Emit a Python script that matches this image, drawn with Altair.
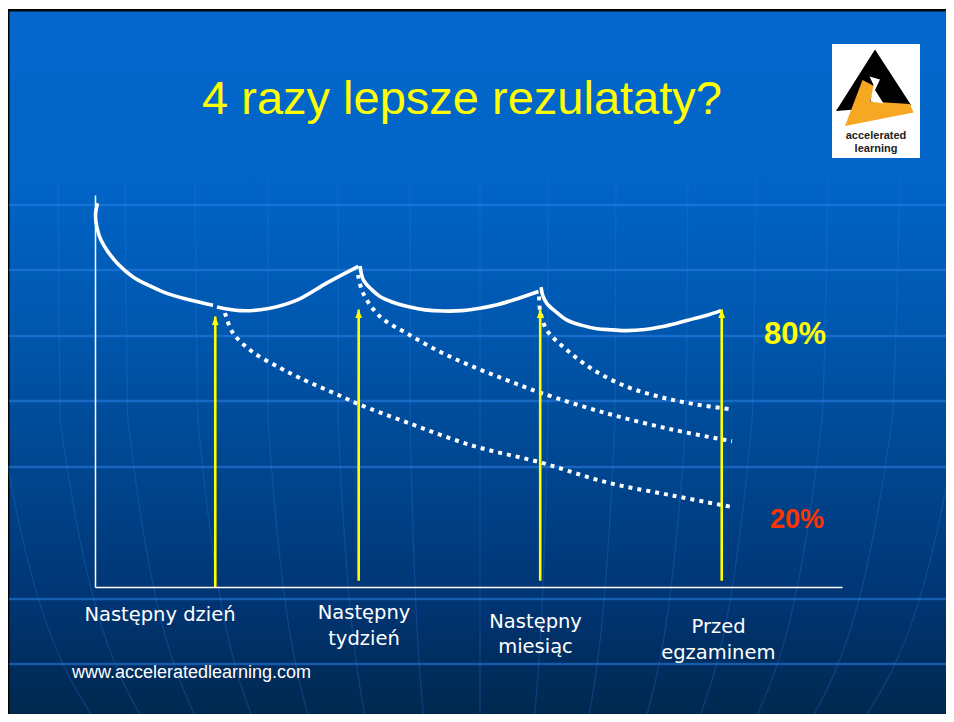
import altair as alt
import pandas as pd

# ---------------- data (x: position on the timeline 0-100, y: retention %) ----------------
event_names = ["Następny dzień", "Następny tydzień", "Następny miesiąc", "Przed egzaminem"]
event_x = [16.1, 35.3, 59.6, 83.9]
arrow_tip = [69.0, 70.8, 70.8, 70.8]
arrow_base = [0.0, 1.6, 1.6, 1.6]

# solid curve (review after each repetition), four segments
seg1_x = [0.33, 0.07, 0.27, 0.80, 1.74, 3.08, 5.09, 7.36, 9.10, 12.72, 15.80]
seg1_y = [97.9, 94.9, 91.6, 88.5, 85.5, 82.4, 79.1, 76.8, 75.3, 73.2, 71.9]
seg2_x = [16.33, 19.41, 23.03, 27.04, 31.06, 35.27]
seg2_y = [71.4, 70.5, 71.0, 73.2, 77.6, 81.8]
seg3_x = [35.48, 35.94, 37.08, 38.15, 39.76, 41.70, 44.18, 46.59, 49.13, 51.54, 53.82, 55.96, 59.37]
seg3_y = [81.9, 78.3, 75.8, 74.1, 72.7, 71.6, 70.7, 70.4, 70.5, 71.1, 72.0, 73.2, 75.4]
seg4_x = [59.71, 59.97, 60.51, 61.71, 63.19, 65.06, 67.20, 69.21, 71.22, 73.63, 75.64, 77.91, 80.05, 82.06, 83.80]
seg4_y = [76.5, 74.2, 72.3, 70.2, 68.1, 66.8, 65.9, 65.6, 65.4, 65.7, 66.3, 67.3, 68.4, 69.4, 70.5]

# dotted forgetting curves (no further review)
dot1_x = [17.40, 18.47, 21.15, 24.77, 27.44, 32.80, 35.21, 41.73, 50.64, 59.57, 68.50, 77.42, 85.27]
dot1_y = [69.9, 64.8, 59.9, 55.9, 53.3, 48.8, 46.7, 42.0, 36.0, 31.8, 26.7, 23.3, 20.4]
dot2_x = [35.21, 35.88, 38.15, 41.73, 46.18, 50.60, 55.11, 59.57, 68.50, 77.42, 85.27]
dot2_y = [79.6, 75.0, 69.0, 64.7, 60.0, 56.2, 52.8, 49.6, 44.3, 40.1, 37.2]
dot3_x = [59.44, 59.57, 60.47, 63.15, 66.71, 71.18, 75.64, 80.09, 85.27]
dot3_y = [74.1, 70.7, 65.6, 60.5, 55.4, 51.1, 48.5, 46.7, 45.3]

# background texture of the slide (pixels relative to the plot origin)
grid_rows = [10, 75, 141, 206, 272, 404, 469]
mer_top = [-105, -37, 30, 100, 173, 243, 315, 385, 453, 521, 593, 661, 733, 805, 873]
mer_mid = [-95, -35, 33, 103, 173, 243, 315, 385, 453, 520, 591, 657, 727, 797, 863]
mer_bot = [1, 49, 103, 159, 215, 271, 329, 385, 439, 493, 550, 603, 659, 715, 767]

# ---------------- tables ----------------
def frame(xs, ys, name):
    return pd.DataFrame({"x": xs, "y": ys, "curve": name, "i": range(len(xs))})

solid = pd.concat([frame(seg1_x, seg1_y, "s1"), frame(seg2_x, seg2_y, "s2"),
                   frame(seg3_x, seg3_y, "s3"), frame(seg4_x, seg4_y, "s4")])
dotted = pd.concat([frame(dot1_x, dot1_y, "d1"), frame(dot2_x, dot2_y, "d2"),
                    frame(dot3_x, dot3_y, "d3")])
arrows = pd.DataFrame({"x": event_x, "tip": arrow_tip, "base": arrow_base, "name": event_names})

rows = []
for k in range(len(mer_top)):
    for j, (px, py) in enumerate([(mer_top[k], -15), (mer_mid[k], 225), (mer_bot[k], 527)]):
        rows.append({"m": k, "j": j, "px": px, "py": py})
meridians = pd.DataFrame(rows)

xs = alt.Scale(domain=[0, 100], nice=False, zero=False)
ys = alt.Scale(domain=[0, 100], nice=False, zero=False)
ax = alt.Axis(domain=True, domainColor="white", domainWidth=1.5, ticks=False,
              labels=False, grid=False, title=None, zindex=1)

one = pd.DataFrame({"t": [""]})

# ---------------- background ----------------
border = alt.Chart(one).mark_rect(color="#050505").encode(
    x=alt.value(-87), x2=alt.value(851), y=alt.value(-186), y2=alt.value(519))
slide = alt.Chart(one).mark_rect(fill={
    "gradient": "linear", "x1": 0, "y1": 0, "x2": 0, "y2": 1,
    "stops": [{"offset": 0.0, "color": "#0367CC"}, {"offset": 0.25, "color": "#0164C6"},
              {"offset": 0.45, "color": "#0057AE"}, {"offset": 0.65, "color": "#00468F"},
              {"offset": 0.85, "color": "#013471"}, {"offset": 1.0, "color": "#01284F"}]}).encode(
    x=alt.value(-85.5), x2=alt.value(851), y=alt.value(-183.5), y2=alt.value(519))

grid = alt.Chart(pd.DataFrame({"py": grid_rows})).mark_rule(
    color="#2A7FE6", strokeWidth=2.5, opacity=0.55).encode(
    x=alt.value(-86), x2=alt.value(851), y=alt.Y("py:Q", scale=None))

mer = alt.Chart(meridians).mark_line(
    color="#2A7FE6", strokeWidth=1.3, opacity=0.25, interpolate="monotone").encode(
    x=alt.X("px:Q", scale=None), y=alt.Y("py:Q", scale=None), detail="m:N", order="j:Q")

# ---------------- chart marks ----------------
solid_l = alt.Chart(solid).mark_line(
    color="white", strokeWidth=3.6, interpolate="catmull-rom", strokeCap="butt").encode(
    x=alt.X("x:Q", scale=xs, axis=ax), y=alt.Y("y:Q", scale=ys, axis=ax),
    detail="curve:N", order="i:Q")

dotted_l = alt.Chart(dotted).mark_line(
    color="white", strokeWidth=4, strokeDash=[4, 5], interpolate="catmull-rom",
    strokeCap="butt").encode(
    x=alt.X("x:Q", scale=xs), y=alt.Y("y:Q", scale=ys), detail="curve:N", order="i:Q")

shafts = alt.Chart(arrows).mark_rule(color="#FFFF00", strokeWidth=2.6).encode(
    x=alt.X("x:Q", scale=xs), y=alt.Y("base:Q", scale=ys), y2="tip:Q")
heads = alt.Chart(arrows).mark_point(
    shape="M0,0L-0.8,2L0.8,2Z", filled=True, color="#FFFF00", size=71, opacity=1,
    strokeWidth=0).encode(x=alt.X("x:Q", scale=xs), y=alt.Y("tip:Q", scale=ys))


def txt(s, x, y, **kw):
    return alt.Chart(pd.DataFrame({"t": [s]})).mark_text(**kw).encode(
        x=alt.value(x), y=alt.value(y), text="t:N")


lab = dict(font="DejaVu Sans", fontSize=19.5, color="white",
           align="center", baseline="alphabetic")
labels = [
    txt("Następny dzień", 65, 425.7, **lab),
    txt("Następny", 269, 424, **lab), txt("tydzień", 269, 450, **lab),
    txt("Następny", 440.6, 433.3, **lab), txt("miesiąc", 440.5, 458.3, **lab),
    txt("Przed", 623.5, 438.3, **lab), txt("egzaminem", 623.3, 464.3, **lab),
]

title = txt("4 razy lepsze rezulatаty?", 367, -81, font="Liberation Sans, Arial", fontSize=47,
            color="#FFFF00", align="center", baseline="alphabetic")
pct80 = txt("80%", 700, 149, font="Liberation Sans, Arial", fontSize=31, fontWeight="bold",
            color="#FFFF00", align="center", baseline="alphabetic")
pct20 = txt("20%", 702, 333.3, font="Liberation Sans, Arial", fontSize=27, fontWeight="bold",
            color="#FF3300", align="center", baseline="alphabetic")
site = txt("www.acceleratedlearning.com", -23, 483, font="Liberation Sans, Arial", fontSize=18,
           color="white", align="left", baseline="alphabetic")

# ---------------- logo ----------------
logo_box = alt.Chart(one).mark_rect(color="white").encode(
    x=alt.value(737), x2=alt.value(825), y=alt.value(-151), y2=alt.value(-37))


def shape(path, col):
    return alt.Chart(one).mark_point(shape=path, filled=True, color=col, size=10000,
                                     opacity=1, strokeWidth=0).encode(
        x=alt.value(781), y=alt.value(-94))


logo_black = shape("M-0.02,-1.03L-0.8,0.2L0.7,0.08Z", "#000000")
logo_yellow = shape("M-0.27,-0.42L-0.02,-0.29L-0.12,0.01L0.68,0.06L0.75,0.23L-0.62,0.5Z", "#F7A823")
logo_white = shape("M-0.13,-0.49L0.08,-0.43L-0.02,-0.22L0.15,0.05L-0.11,0.01L-0.05,-0.32Z", "#FFFFFF")
logo_t1 = txt("accelerated", 781, -56.5, font="Liberation Sans Narrow, Liberation Sans, Arial",
              fontSize=11, fontWeight="bold", color="#222222", align="center", baseline="alphabetic")
logo_t2 = txt("learning", 781, -43.5, font="Liberation Sans Narrow, Liberation Sans, Arial",
              fontSize=11, fontWeight="bold", color="#222222", align="center", baseline="alphabetic")

chart = alt.layer(
    border, slide, grid, mer, solid_l, dotted_l, shafts, heads, *labels,
    title, pct80, pct20, site, logo_box, logo_black, logo_yellow, logo_white, logo_t1, logo_t2
).properties(
    width=747, height=392, autosize="none",
    padding={"left": 87, "top": 187, "right": 104, "bottom": 127},
    background="white",
).configure_view(stroke=None)

chart.save("out.html", embed_options={"renderer": "svg", "actions": False})
